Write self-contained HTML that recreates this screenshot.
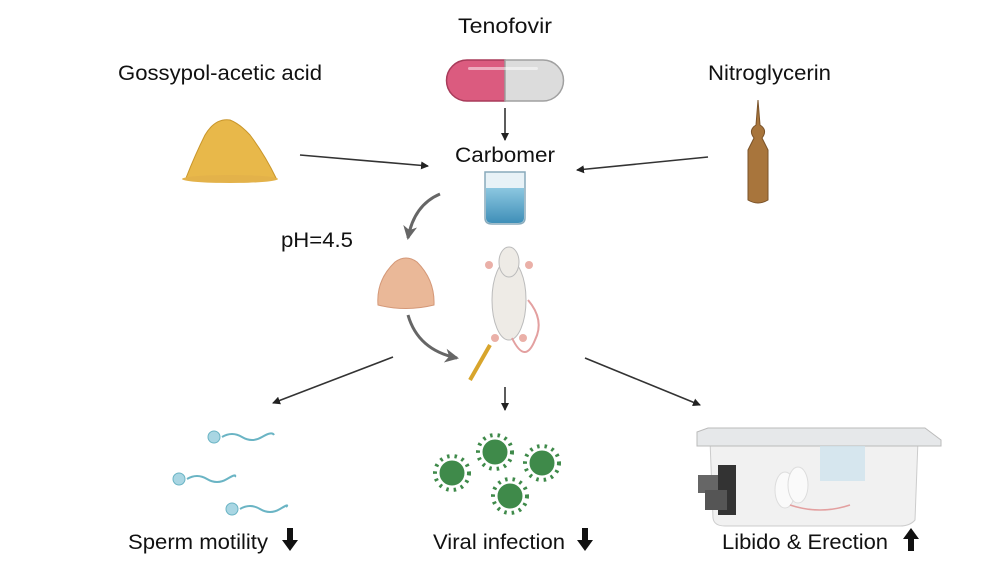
<!DOCTYPE html>
<html><head><style>
html,body{margin:0;padding:0;background:#fff;}
svg{display:block;font-family:"Liberation Sans",Arial,sans-serif;}
</style></head><body>
<svg width="1001" height="573" viewBox="0 0 1001 573">
<defs>
<marker id="ah" markerWidth="8" markerHeight="8" refX="7" refY="4" orient="auto" markerUnits="userSpaceOnUse"><path d="M0,0 L8,4 L0,8 Z" fill="#222"/></marker>
<marker id="ahg" markerWidth="16" markerHeight="16" refX="12" refY="8" orient="auto" markerUnits="userSpaceOnUse"><path d="M0,1 L14,8 L0,15 L4,8 Z" fill="#666"/></marker>
<linearGradient id="beak" x1="0" y1="0" x2="0" y2="1"><stop offset="0" stop-color="#8cc7e0"/><stop offset="1" stop-color="#3f8fb8"/></linearGradient>
</defs>
<g font-size="21.5" fill="#111">
<text x="505" y="33" text-anchor="middle" textLength="94" lengthAdjust="spacingAndGlyphs">Tenofovir</text>
<text x="118" y="80" textLength="204" lengthAdjust="spacingAndGlyphs">Gossypol-acetic acid</text>
<text x="708" y="80" textLength="123" lengthAdjust="spacingAndGlyphs">Nitroglycerin</text>
<text x="505" y="162" text-anchor="middle" textLength="100" lengthAdjust="spacingAndGlyphs">Carbomer</text>
<text x="281" y="247" textLength="72" lengthAdjust="spacingAndGlyphs">pH=4.5</text>
<text x="128" y="549" textLength="140" lengthAdjust="spacingAndGlyphs">Sperm motility</text>
<text x="433" y="549" textLength="132" lengthAdjust="spacingAndGlyphs">Viral infection</text>
<text x="722" y="549" textLength="166" lengthAdjust="spacingAndGlyphs">Libido &amp; Erection</text>
</g>
<g fill="#111">
<path d="M287,528 h6 v12 h5 l-8,11 l-8,-11 h5 z"/>
<path d="M582,528 h6 v12 h5 l-8,11 l-8,-11 h5 z"/>
<path d="M908,551 h6 v-12 h5 l-8,-11 l-8,11 h5 z"/>
</g>
<path d="M467,60 H505 V101 H467 A20.5,20.5 0 0 1 467,60 Z" fill="#db5b7f" stroke="#a83b5a" stroke-width="1.5"/>
<path d="M505,60 H543 A20.5,20.5 0 0 1 543,101 H505 Z" fill="#dcdcdc" stroke="#a0a0a0" stroke-width="1.5"/>
<rect x="468" y="67" width="70" height="3" rx="1.5" fill="#fff" opacity="0.5"/>
<g stroke="#333" stroke-width="1.6" fill="none" marker-end="url(#ah)">
<line x1="505" y1="108" x2="505" y2="140"/>
<line x1="300" y1="155" x2="428" y2="166"/>
<line x1="708" y1="157" x2="577" y2="170"/>
<line x1="393" y1="357" x2="273" y2="403"/>
<line x1="505" y1="387" x2="505" y2="410"/>
<line x1="585" y1="358" x2="700" y2="405"/>
</g>
<g stroke="#666" stroke-width="3" fill="none" marker-end="url(#ahg)">
<path d="M440,194 Q414,205 408,238"/>
<path d="M408,315 Q418,350 457,358"/>
</g>
<path d="M186,178 Q195,155 205,135 Q215,118 230,120 Q240,124 250,135 Q265,155 276,178 Z" fill="#e8b84a" stroke="#c9962b"/>
<ellipse cx="230" cy="179" rx="48" ry="4" fill="#e3b24a"/>
<path d="M758,100 L760,125 Q768,130 762,138 L768,150 V200 Q758,206 748,200 V150 L754,138 Q748,130 756,125 Z" fill="#a8753c" stroke="#7a5228"/>
<path d="M485,172 H525 V218 Q525,224 518,224 H492 Q485,224 485,218 Z" fill="#e8f2f7" stroke="#8ab" stroke-width="1.5"/>
<path d="M486,188 H524 V218 Q524,223 518,223 H492 Q486,223 486,218 Z" fill="url(#beak)"/>
<path d="M378,305 Q376,280 395,262 Q406,254 417,262 Q435,280 434,305 Q406,312 378,305 Z" fill="#eab898" stroke="#d49878"/>
<g fill="#eeebe6" stroke="#bbb">
<ellipse cx="509" cy="300" rx="17" ry="40"/>
<ellipse cx="509" cy="262" rx="10" ry="15"/>
</g>
<path d="M512,338 Q525,365 535,340 Q545,320 528,300" stroke="#e3a0a0" stroke-width="2" fill="none"/>
<g fill="#eab0a8"><circle cx="489" cy="265" r="4"/><circle cx="529" cy="265" r="4"/><circle cx="495" cy="338" r="4"/><circle cx="523" cy="338" r="4"/></g>
<line x1="470" y1="380" x2="490" y2="345" stroke="#d8a52c" stroke-width="4"/>
<g stroke="#6ab4c4" stroke-width="2" fill="none">
<path d="M222,437 q10,-6 20,0 t20,0 t12,-2"/>
<path d="M187,479 q10,-6 20,0 t20,0 t8,-2"/>
<path d="M240,509 q10,-6 20,0 t20,0 t6,-2"/>
</g>
<g fill="#a9d6e3" stroke="#6ab4c4"><circle cx="214" cy="437" r="6"/><circle cx="179" cy="479" r="6"/><circle cx="232" cy="509" r="6"/></g>
<g fill="#3f8a4a" stroke="#3f8a4a">
<g transform="translate(452,473)"><circle r="12"/><circle r="17" fill="none" stroke-width="4" stroke-dasharray="2.5 5"/></g>
<g transform="translate(495,452)"><circle r="12"/><circle r="17" fill="none" stroke-width="4" stroke-dasharray="2.5 5"/></g>
<g transform="translate(542,463)"><circle r="12"/><circle r="17" fill="none" stroke-width="4" stroke-dasharray="2.5 5"/></g>
<g transform="translate(510,496)"><circle r="12"/><circle r="17" fill="none" stroke-width="4" stroke-dasharray="2.5 5"/></g>
</g>
<path d="M710,440 H918 L915,520 Q910,526 900,526 H725 Q714,526 713,518 Z" fill="#f1f1f1" stroke="#ccc"/>
<path d="M697,432 L708,428 H925 L941,440 V446 H697 Z" fill="#e6e8ea" stroke="#bbb"/>
<rect x="820" y="446" width="45" height="35" fill="#cfe4ee" opacity="0.8"/>
<rect x="718" y="465" width="18" height="50" fill="#333"/>
<rect x="698" y="475" width="20" height="18" fill="#666"/>
<rect x="705" y="490" width="22" height="20" fill="#555"/>
<ellipse cx="785" cy="490" rx="10" ry="18" fill="#fafafa" stroke="#ddd"/>
<ellipse cx="798" cy="485" rx="10" ry="18" fill="#fafafa" stroke="#ddd"/>
<path d="M790,505 Q820,515 850,505" stroke="#e3a0a0" stroke-width="1.5" fill="none"/>
</svg>
</body></html>
